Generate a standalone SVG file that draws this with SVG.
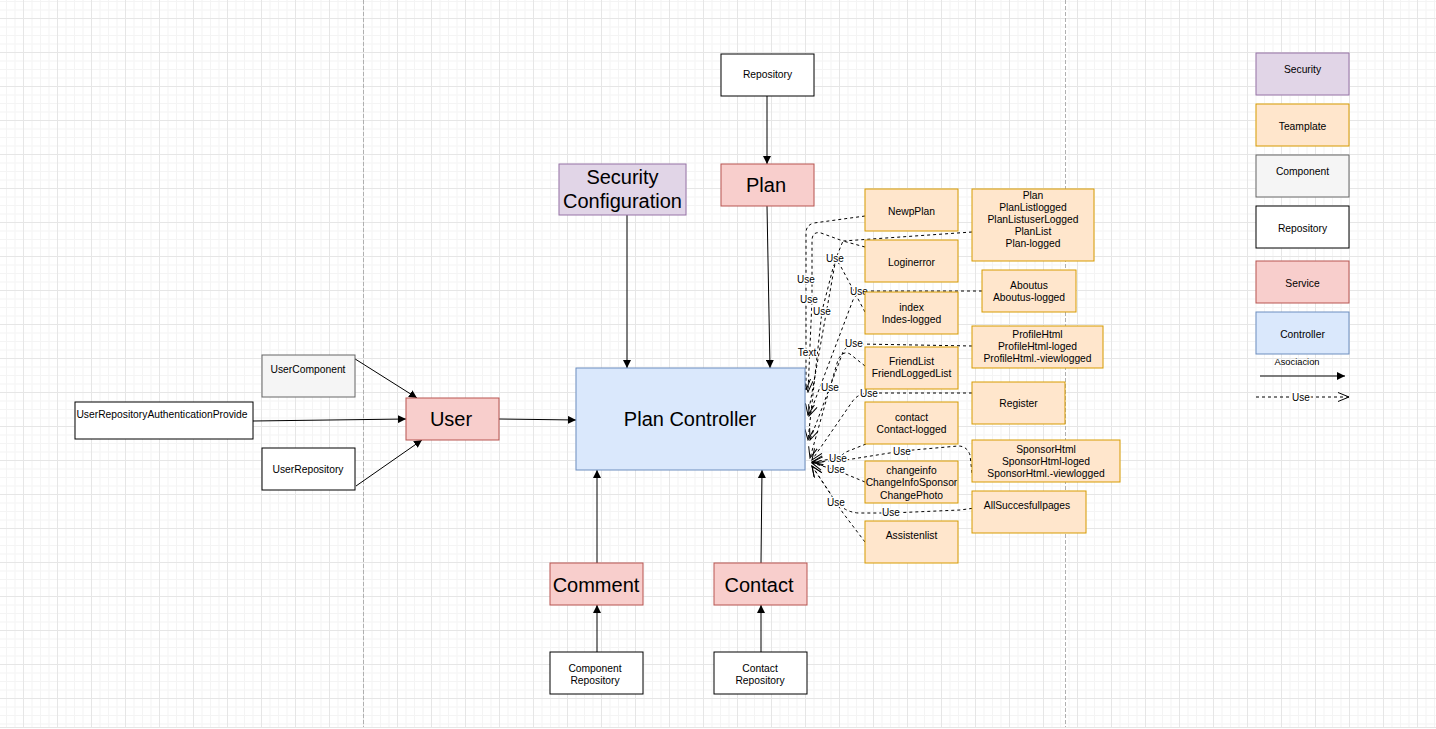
<svg xmlns="http://www.w3.org/2000/svg" width="1436" height="729" viewBox="0 0 1436 729">
  <style>
    text { font-family: "Liberation Sans", Arial, sans-serif; fill: #000; text-anchor: middle; }
    .sm { font-size: 10.3px; }
    .lg { font-size: 20px; }
    .lbl { font-size: 10px; paint-order: stroke; stroke: #fff; stroke-width: 3px; stroke-linejoin: round; }
    .tpl { fill: #ffe6cc; stroke: #d79b00; stroke-width: 1; }
    .svc { fill: #f8cecc; stroke: #b85450; stroke-width: 1; }
    .sec { fill: #e1d5e7; stroke: #9673a6; stroke-width: 1; }
    .ctl { fill: #dae8fc; stroke: #6c8ebf; stroke-width: 1; }
    .cmp { fill: #f5f5f5; stroke: #666; stroke-width: 1; }
    .rep { fill: #fff; stroke: #000; stroke-width: 1; }
    .assoc { fill: none; stroke: #000; stroke-width: 1; marker-end: url(#block); }
    .use { fill: none; stroke: #000; stroke-width: 1; stroke-dasharray: 3 3; marker-end: url(#open); }
    .brk { stroke: #b0b0b0; stroke-width: 1; stroke-dasharray: 4 2; }
  </style>
  <defs>
    <pattern id="grid" x="23" y="18" width="34" height="34" patternUnits="userSpaceOnUse">
      <rect x="8.5" y="0" width="1" height="34" fill="#f4f4f4"/>
      <rect x="17" y="0" width="1" height="34" fill="#f4f4f4"/>
      <rect x="25.5" y="0" width="1" height="34" fill="#f4f4f4"/>
      <rect x="0" y="8.5" width="34" height="1" fill="#f4f4f4"/>
      <rect x="0" y="17" width="34" height="1" fill="#f4f4f4"/>
      <rect x="0" y="25.5" width="34" height="1" fill="#f4f4f4"/>
      <rect x="0" y="0" width="1" height="34" fill="#e6e6e6"/>
      <rect x="0" y="0" width="34" height="1" fill="#e6e6e6"/>
    </pattern>
    <marker id="block" viewBox="0 0 8 8" refX="8" refY="4" markerWidth="8" markerHeight="8" markerUnits="userSpaceOnUse" orient="auto">
      <path d="M0,0 L8,4 L0,8 Z" fill="#000"/>
    </marker>
    <marker id="open" viewBox="0 0 12 10" refX="11" refY="5" markerWidth="12" markerHeight="10" markerUnits="userSpaceOnUse" orient="auto">
      <path d="M0,0.5 L11,5 L0,9.5" fill="none" stroke="#000" stroke-width="1"/>
    </marker>
  </defs>

  <!-- canvas -->
  <rect width="1436" height="729" fill="#fff"/>
  <rect width="1436" height="727" fill="url(#grid)"/>
  <line x1="0" y1="727.5" x2="1436" y2="727.5" stroke="#e6e6e6"/>
  <line class="brk" x1="363.5" y1="0" x2="363.5" y2="727"/>
  <line class="brk" x1="1065.5" y1="0" x2="1065.5" y2="727"/>

  <!-- connectors -->
  <g id="connectors">
    <!-- associations -->
    <path class="assoc" d="M767,96 L767,164"/>
    <path class="assoc" d="M767,206 L770,368"/>
    <path class="assoc" d="M627,215 L627,368"/>
    <path class="assoc" d="M499,419 L576,420"/>
    <path class="assoc" d="M352,357 L417,398"/>
    <path class="assoc" d="M253,421 L406,419"/>
    <path class="assoc" d="M356,486 L422,440"/>
    <path class="assoc" d="M597,563 L597,470"/>
    <path class="assoc" d="M761,563 L762,470"/>
    <path class="assoc" d="M597,652 L597,605"/>
    <path class="assoc" d="M761,652 L761,605"/>

    <!-- template usages -->
    <path class="use" d="M865,216 L814,223 Q806,225 806,233 L806,390"/>
    <path class="use" d="M972,232 L843,241 L821,233 Q812,231 812,241 L812,300 L808,392"/>
    <path class="use" d="M865,247 L843,241 L836,258 L808,415"/>
    <path class="use" d="M865,312 L840,265 Q836,258 833,268 L822,311 L808,440"/>
    <path class="use" d="M982,291 L866,291 Q858,291 853,300 L809,416"/>
    <path class="use" d="M972,346 L860,344 Q848,343 843,352 L810,440"/>
    <path class="use" d="M865,366 L850,354 Q843,350 838,360 L830,387 L810,458"/>
    <path class="use" d="M972,393 L870,393 Q858,393 852,402 L812,460"/>
    <path class="use" d="M866,444 L846,452 L838,458 L812,462"/>
    <path class="use" d="M972,473 L970,455 Q967,446 958,446 L902,451 L846,460 L812,462"/>
    <path class="use" d="M865,482 L836,470 L812,463"/>
    <path class="use" d="M990,506 L960,510 L891,513 L858,513 Q848,512 842,507 L836,502 L812,466"/>
    <path class="use" d="M865,542 L843,513 L812,466"/>

    <text class="lbl" x="806" y="282.5">Use</text>
    <text class="lbl" x="809" y="302.5">Use</text>
    <text class="lbl" x="835" y="261.5">Use</text>
    <text class="lbl" x="822" y="315">Use</text>
    <text class="lbl" x="859" y="295">Use</text>
    <text class="lbl" x="807" y="355.5">Text</text>
    <text class="lbl" x="854" y="347">Use</text>
    <text class="lbl" x="830" y="390.5">Use</text>
    <text class="lbl" x="869" y="397">Use</text>
    <text class="lbl" x="902" y="454.5">Use</text>
    <text class="lbl" x="838" y="462">Use</text>
    <text class="lbl" x="836" y="473">Use</text>
    <text class="lbl" x="836" y="506">Use</text>
    <text class="lbl" x="891" y="516">Use</text>
  </g>

  <!-- core nodes -->
  <g id="plan-repository">
    <rect class="rep" x="721" y="54" width="93" height="42"/>
    <text class="sm" x="767.5" y="78">Repository</text>
  </g>
  <g id="plan">
    <rect class="svc" x="721" y="164" width="93" height="42"/>
    <text class="lg" x="766" y="192">Plan</text>
  </g>
  <g id="security-configuration">
    <rect class="sec" x="559" y="164" width="127" height="51"/>
    <text class="lg" x="622.5" y="184">Security</text>
    <text class="lg" x="622.5" y="208">Configuration</text>
  </g>
  <g id="plan-controller">
    <rect class="ctl" x="576" y="368" width="229" height="102"/>
    <text class="lg" x="690" y="426">Plan Controller</text>
  </g>
  <g id="user">
    <rect class="svc" x="406" y="398" width="93" height="42"/>
    <text class="lg" x="451" y="426">User</text>
  </g>
  <g id="user-component">
    <rect class="cmp" x="262" y="355" width="93" height="42"/>
    <text class="sm" x="308" y="372.5">UserComponent</text>
  </g>
  <g id="user-repository-auth">
    <rect class="rep" x="75" y="402" width="178" height="37"/>
    <text class="sm" x="162" y="417.5">UserRepositoryAuthenticationProvide</text>
  </g>
  <g id="user-repository">
    <rect class="rep" x="262" y="448" width="93" height="42"/>
    <text class="sm" x="308" y="472.5">UserRepository</text>
  </g>
  <g id="comment">
    <rect class="svc" x="550" y="563" width="93" height="42"/>
    <text class="lg" x="596" y="592">Comment</text>
  </g>
  <g id="contact">
    <rect class="svc" x="714" y="563" width="93" height="42"/>
    <text class="lg" x="759" y="592">Contact</text>
  </g>
  <g id="component-repository">
    <rect class="rep" x="550" y="652" width="93" height="42"/>
    <text class="sm" x="595" y="671.5">Component</text>
    <text class="sm" x="595" y="683.5">Repository</text>
  </g>
  <g id="contact-repository">
    <rect class="rep" x="714" y="652" width="93" height="42"/>
    <text class="sm" x="760" y="671.5">Contact</text>
    <text class="sm" x="760" y="683.5">Repository</text>
  </g>

  <!-- templates -->
  <g id="tpl-newpplan">
    <rect class="tpl" x="865" y="189" width="93" height="42"/>
    <text class="sm" x="911.5" y="214.5">NewpPlan</text>
  </g>
  <g id="tpl-plan">
    <rect class="tpl" x="972" y="189" width="122" height="72"/>
    <text class="sm" x="1033" y="199">Plan</text>
    <text class="sm" x="1033" y="211">PlanListlogged</text>
    <text class="sm" x="1033" y="223">PlanListuserLogged</text>
    <text class="sm" x="1033" y="235">PlanList</text>
    <text class="sm" x="1033" y="247">Plan-logged</text>
  </g>
  <g id="tpl-loginerror">
    <rect class="tpl" x="865" y="240" width="93" height="42"/>
    <text class="sm" x="911.5" y="265.5">Loginerror</text>
  </g>
  <g id="tpl-aboutus">
    <rect class="tpl" x="982" y="270" width="94" height="42"/>
    <text class="sm" x="1029" y="288.5">Aboutus</text>
    <text class="sm" x="1029" y="300.5">Aboutus-logged</text>
  </g>
  <g id="tpl-index">
    <rect class="tpl" x="865" y="292" width="93" height="42"/>
    <text class="sm" x="911.5" y="310.5">index</text>
    <text class="sm" x="911.5" y="322.5">Indes-logged</text>
  </g>
  <g id="tpl-profile">
    <rect class="tpl" x="972" y="326" width="131" height="42"/>
    <text class="sm" x="1037.5" y="337.5">ProfileHtml</text>
    <text class="sm" x="1037.5" y="349.5">ProfileHtml-loged</text>
    <text class="sm" x="1037.5" y="361.5">ProfileHtml.-viewlogged</text>
  </g>
  <g id="tpl-friendlist">
    <rect class="tpl" x="865" y="347" width="93" height="42"/>
    <text class="sm" x="911.5" y="365">FriendList</text>
    <text class="sm" x="911.5" y="377">FriendLoggedList</text>
  </g>
  <g id="tpl-register">
    <rect class="tpl" x="972" y="382" width="93" height="42"/>
    <text class="sm" x="1018.5" y="406.5">Register</text>
  </g>
  <g id="tpl-contact">
    <rect class="tpl" x="865" y="402" width="93" height="42"/>
    <text class="sm" x="911.5" y="421">contact</text>
    <text class="sm" x="911.5" y="433">Contact-logged</text>
  </g>
  <g id="tpl-sponsor">
    <rect class="tpl" x="972" y="440" width="148" height="42"/>
    <text class="sm" x="1046" y="452.5">SponsorHtml</text>
    <text class="sm" x="1046" y="464.5">SponsorHtml-loged</text>
    <text class="sm" x="1046" y="476.5">SponsorHtml.-viewlogged</text>
  </g>
  <g id="tpl-changeinfo">
    <rect class="tpl" x="865" y="461" width="93" height="42"/>
    <text class="sm" x="911.5" y="474">changeinfo</text>
    <text class="sm" x="911.5" y="486">ChangeInfoSponsor</text>
    <text class="sm" x="911.5" y="498.5">ChangePhoto</text>
  </g>
  <g id="tpl-allsuccess">
    <rect class="tpl" x="972" y="491" width="114" height="42"/>
    <text class="sm" x="1027" y="509">AllSuccesfullpages</text>
  </g>
  <g id="tpl-assistenlist">
    <rect class="tpl" x="865" y="521" width="93" height="42"/>
    <text class="sm" x="911.5" y="539">Assistenlist</text>
  </g>

  <!-- legend -->
  <g id="legend-security">
    <rect class="sec" x="1256" y="53" width="93" height="42"/>
    <text class="sm" x="1302.5" y="72.5">Security</text>
  </g>
  <g id="legend-template">
    <rect class="tpl" x="1256" y="104" width="93" height="42"/>
    <text class="sm" x="1302.5" y="129.5">Teamplate</text>
  </g>
  <g id="legend-component">
    <rect class="cmp" x="1256" y="155" width="93" height="42"/>
    <text class="sm" x="1302.5" y="174.5">Component</text>
  </g>
  <g id="legend-repository">
    <rect class="rep" x="1256" y="206" width="93" height="42"/>
    <text class="sm" x="1302.5" y="231.5">Repository</text>
  </g>
  <g id="legend-service">
    <rect class="svc" x="1256" y="261" width="93" height="42"/>
    <text class="sm" x="1302.5" y="286.5">Service</text>
  </g>
  <g id="legend-controller">
    <rect class="ctl" x="1256" y="312" width="93" height="42"/>
    <text class="sm" x="1302.5" y="337.5">Controller</text>
  </g>
  <g id="legend-arrows">
    <text x="1297" y="365" style="font-size:9.3px">Asociacion</text>
    <path class="assoc" d="M1260,376 L1345,376"/>
    <path class="use" d="M1256,397 L1349,397"/>
    <text class="lbl" x="1301" y="400.5">Use</text>
  </g>
</svg>
